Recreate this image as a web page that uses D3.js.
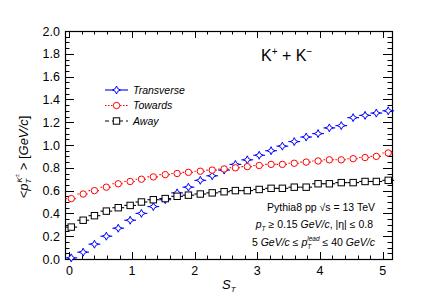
<!DOCTYPE html>
<html>
<head>
<meta charset="utf-8">
<script src="https://cdn.jsdelivr.net/npm/d3@7"></script>
<style>
  body { margin: 0; background: #fff; }
  svg { display: block; font-family: "Liberation Sans", Arial, sans-serif; }
</style>
</head>
<body>
<svg id="chart" width="436" height="305"></svg>
<script>
// S_T bin centres
const st = [0.03, 0.22, 0.40, 0.59, 0.78, 0.97, 1.15, 1.34, 1.53, 1.72, 1.90, 2.09, 2.28, 2.47,
            2.65, 2.84, 3.03, 3.22, 3.40, 3.59, 3.78, 3.97, 4.15, 4.34, 4.53, 4.72, 4.90, 5.09];
const transverse = [0.01, 0.06, 0.13, 0.20, 0.27, 0.34, 0.40, 0.46, 0.52, 0.58, 0.63, 0.69, 0.73, 0.78,
                    0.83, 0.87, 0.91, 0.95, 0.99, 1.03, 1.07, 1.10, 1.15, 1.17, 1.24, 1.26, 1.28, 1.30];
const towards = [0.53, 0.57, 0.60, 0.63, 0.66, 0.68, 0.70, 0.72, 0.74, 0.75, 0.76, 0.77, 0.78, 0.79,
                 0.80, 0.81, 0.82, 0.83, 0.83, 0.84, 0.85, 0.86, 0.87, 0.87, 0.88, 0.89, 0.90, 0.93];
const away = [0.28, 0.34, 0.38, 0.42, 0.45, 0.47, 0.50, 0.52, 0.53, 0.55, 0.56, 0.57, 0.58, 0.59,
              0.60, 0.60, 0.61, 0.62, 0.62, 0.63, 0.63, 0.66, 0.66, 0.67, 0.67, 0.68, 0.68, 0.69];
const binHalf = 0.094;
const xTicks = [0, 1, 2, 3, 4, 5];
const yTicks = [0, 0.2, 0.4, 0.6, 0.8, 1.0, 1.2, 1.4, 1.6, 1.8, 2.0];

const series = [
  { name: 'Transverse', values: transverse, color: '#0000ff', marker: 'star', dash: null, legendDash: null },
  { name: 'Towards', values: towards, color: '#ff0000', marker: 'circle', dash: '1.5,1.5', legendDash: '1.5,1.5' },
  { name: 'Away', values: away, color: '#000000', marker: 'square', dash: null, legendDash: '4,3' }
];

const svg = d3.select('#chart');
const pLeft = 65, pRight = 392, pTop = 31, pBottom = 259;

const x = d3.scaleLinear().domain([-0.07, 5.15]).range([pLeft, pRight]);
const y = d3.scaleLinear().domain([0, 2]).range([pBottom, pTop]);

// axes with ROOT style ticks inside the frame
const xMinor = d3.range(0, 5.01, 0.2);
const yMinor = d3.range(0, 2.001, 0.05);

const axes = svg.append('g').attr('stroke', '#000').attr('stroke-width', 1);
xMinor.forEach(v => {
  const major = xTicks.some(t => Math.abs(t - v) < 1e-6);
  const len = major ? 7 : 3.5;
  const px = Math.round(x(v)) + 0.5;
  axes.append('line').attr('x1', px).attr('x2', px).attr('y1', pBottom).attr('y2', pBottom - len);
  axes.append('line').attr('x1', px).attr('x2', px).attr('y1', pTop).attr('y2', pTop + len);
});
yMinor.forEach(v => {
  const major = yTicks.some(t => Math.abs(t - v) < 1e-6);
  const len = major ? 9 : 4.5;
  const py = Math.round(y(v)) + 0.5;
  axes.append('line').attr('x1', pLeft).attr('x2', pLeft + len).attr('y1', py).attr('y2', py);
  axes.append('line').attr('x1', pRight).attr('x2', pRight - len).attr('y1', py).attr('y2', py);
});

svg.append('rect')
  .attr('x', pLeft + 0.5).attr('y', pTop + 0.5)
  .attr('width', pRight - pLeft).attr('height', pBottom - pTop)
  .attr('fill', 'none').attr('stroke', '#000').attr('stroke-width', 1.2);

svg.append('g').selectAll('text').data(xTicks).join('text')
  .attr('x', d => x(d)).attr('y', 275)
  .attr('text-anchor', 'middle').attr('font-size', 12.5)
  .text(d => d);

svg.append('g').selectAll('text').data(yTicks).join('text')
  .attr('x', 60).attr('y', d => y(d) + 4.5)
  .attr('text-anchor', 'end').attr('font-size', 12.5)
  .text(d => d3.format('.1f')(d));

function drawMarker(g, type, cx, cy, color) {
  if (type === 'circle') {
    g.append('circle').attr('cx', cx).attr('cy', cy).attr('r', 3.2)
      .attr('fill', '#fff').attr('stroke', color).attr('stroke-width', 1);
  } else if (type === 'square') {
    g.append('rect').attr('x', cx - 3.2).attr('y', cy - 3.2).attr('width', 6.4).attr('height', 6.4)
      .attr('fill', '#fff').attr('stroke', color).attr('stroke-width', 1);
  } else {
    const s = 4, w = 1.3;
    const p = `M${cx},${cy - s} L${cx + w},${cy - w} L${cx + s},${cy} L${cx + w},${cy + w} ` +
              `L${cx},${cy + s} L${cx - w},${cy + w} L${cx - s},${cy} L${cx - w},${cy - w} Z`;
    g.append('path').attr('d', p).attr('fill', '#fff').attr('stroke', color).attr('stroke-width', 1);
  }
}

// data series
series.forEach(s => {
  const g = svg.append('g');
  s.values.forEach((v, i) => {
    g.append('line')
      .attr('x1', x(st[i] - binHalf)).attr('x2', x(st[i] + binHalf))
      .attr('y1', y(v)).attr('y2', y(v))
      .attr('stroke', s.color).attr('stroke-width', 1.1)
      .attr('stroke-dasharray', s.dash);
  });
  s.values.forEach((v, i) => drawMarker(g, s.marker, x(st[i]), y(v), s.color));
});

// legend
const legend = svg.append('g');
series.forEach((s, i) => {
  const ly = 90 + i * 15.5;
  legend.append('line').attr('x1', 105).attr('x2', 128).attr('y1', ly).attr('y2', ly)
    .attr('stroke', s.color).attr('stroke-width', 1.1).attr('stroke-dasharray', s.legendDash);
  drawMarker(legend, s.marker, 116.5, ly, s.color);
  legend.append('text').attr('x', 133).attr('y', ly + 3.8)
    .attr('font-size', 10.5).attr('font-style', 'italic').text(s.name);
});

// K+ + K- label
const kl = svg.append('text').attr('x', 261).attr('y', 61).attr('font-size', 16);
kl.append('tspan').text('K');
kl.append('tspan').attr('font-size', 10).attr('dy', -6).text('+');
kl.append('tspan').attr('dy', 6).text(' + K');
kl.append('tspan').attr('font-size', 10).attr('dy', -6).text('\u2212');

// annotations
const ann = svg.append('g').attr('font-size', 10.5).attr('text-anchor', 'end');
ann.append('text').attr('x', 375).attr('y', 211).text('Pythia8 pp \u221As = 13 TeV');
const a2 = ann.append('text').attr('x', 373).attr('y', 228);
a2.append('tspan').attr('font-style', 'italic').text('p');
a2.append('tspan').attr('font-size', 6.5).attr('dy', 3).attr('font-style', 'italic').text('T');
a2.append('tspan').attr('dy', -3).text(' \u2265 0.15 ');
a2.append('tspan').attr('font-style', 'italic').text('GeV/c');
a2.append('tspan').text(', |\u03B7| \u2264 0.8');
const a3 = ann.append('text').attr('x', 375).attr('y', 246);
a3.append('tspan').text('5 ');
a3.append('tspan').attr('font-style', 'italic').text('GeV/c');
a3.append('tspan').text(' \u2264  ');
a3.append('tspan').attr('font-style', 'italic').text('p');
a3.append('tspan').attr('font-size', 6.5).attr('dy', 3).attr('font-style', 'italic').text('T');
a3.append('tspan').attr('font-size', 6.5).attr('dx', -4).attr('dy', -8).attr('font-style', 'italic').text('lead');
a3.append('tspan').attr('dy', 5).text(' \u2264 40 ');
a3.append('tspan').attr('font-style', 'italic').text('GeV/c');

// axis titles
const xt = svg.append('text').attr('x', 222).attr('y', 289).attr('font-size', 13);
xt.append('tspan').attr('font-style', 'italic').text('S');
xt.append('tspan').attr('font-size', 8).attr('dy', 3).attr('font-style', 'italic').text('T');

const yt = svg.append('text').attr('transform', 'translate(28,157) rotate(-90)')
  .attr('text-anchor', 'middle').attr('font-size', 13);
yt.append('tspan').text('<');
yt.append('tspan').attr('font-style', 'italic').text('p');
yt.append('tspan').attr('font-size', 8).attr('dy', 3).attr('font-style', 'italic').text('T');
yt.append('tspan').attr('font-size', 8).attr('dx', -4).attr('dy', -9).attr('font-style', 'italic').text('K');
yt.append('tspan').attr('font-size', 6).attr('dy', -3).text('\u00B1');
yt.append('tspan').attr('dy', 9).text(' > [');
yt.append('tspan').attr('font-style', 'italic').text('GeV/c');
yt.append('tspan').text(']');
</script>
</body>
</html>
